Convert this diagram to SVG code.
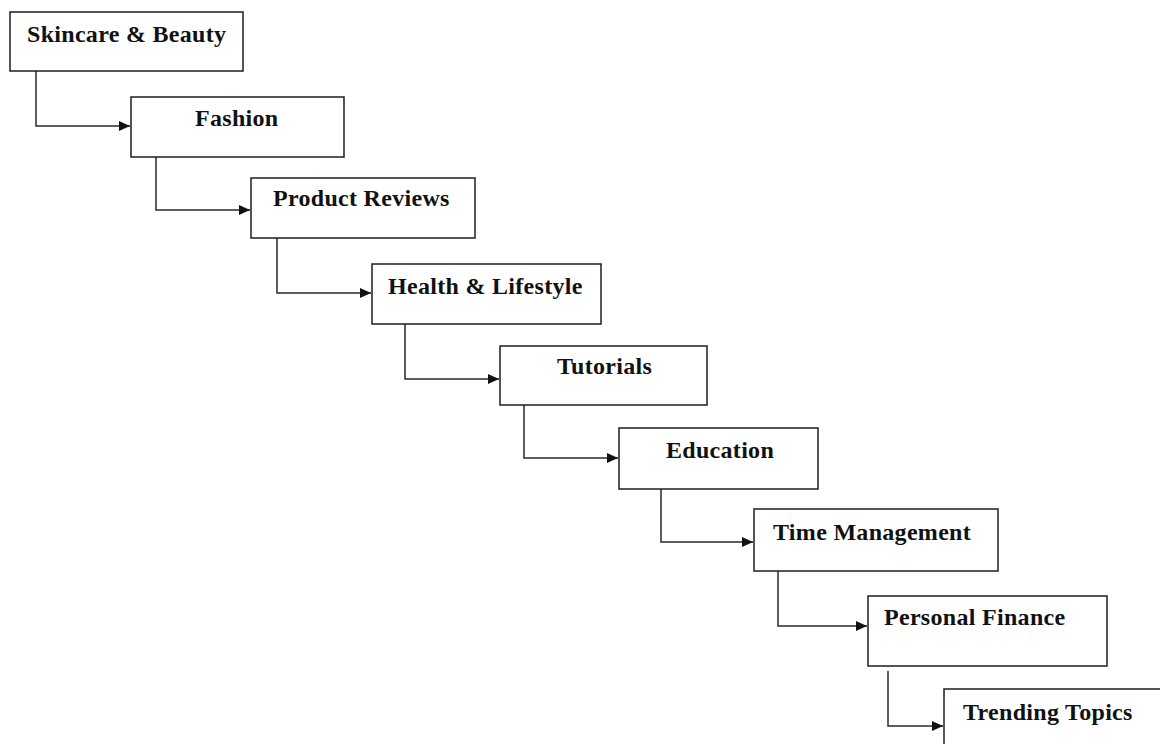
<svg xmlns="http://www.w3.org/2000/svg" width="1160" height="744" viewBox="0 0 1160 744">
  <style>
    .box { fill: #ffffff; stroke: #1e1e1e; stroke-width: 1.5; }
    .lbl { font-family: "Liberation Serif", "Times New Roman", serif; font-weight: bold; font-size: 24px; letter-spacing: 0.3px; fill: #111111; }
    .link { fill: none; stroke: #2a2a2a; stroke-width: 1.5; }
  </style>
  <defs>
    <marker id="arrow" viewBox="0 0 11 10" refX="11" refY="5" markerWidth="11" markerHeight="10" markerUnits="userSpaceOnUse" orient="auto">
      <path d="M0,0 L11,5 L0,10 Z" fill="#111111"/>
    </marker>
  </defs>
  <rect width="1160" height="744" fill="#ffffff"/>

  <g id="connectors">
    <path class="link" d="M36,71 V126 H130" marker-end="url(#arrow)"/>
    <path class="link" d="M156,157 V210 H250" marker-end="url(#arrow)"/>
    <path class="link" d="M277,238 V293 H371" marker-end="url(#arrow)"/>
    <path class="link" d="M405,324 V379 H499" marker-end="url(#arrow)"/>
    <path class="link" d="M524,405 V458 H618" marker-end="url(#arrow)"/>
    <path class="link" d="M661,489 V542 H753" marker-end="url(#arrow)"/>
    <path class="link" d="M778,571 V626 H867" marker-end="url(#arrow)"/>
    <path class="link" d="M888,671 V726 H943" marker-end="url(#arrow)"/>
  </g>

  <g id="skincare-beauty">
    <rect class="box" x="10" y="12" width="233" height="59"/>
    <text class="lbl" x="27" y="42">Skincare &amp; Beauty</text>
  </g>
  <g id="fashion">
    <rect class="box" x="131" y="97" width="213" height="60"/>
    <text class="lbl" x="195" y="126">Fashion</text>
  </g>
  <g id="product-reviews">
    <rect class="box" x="251" y="178" width="224" height="60"/>
    <text class="lbl" x="273" y="206">Product Reviews</text>
  </g>
  <g id="health-lifestyle">
    <rect class="box" x="372" y="264" width="229" height="60"/>
    <text class="lbl" x="388" y="294">Health &amp; Lifestyle</text>
  </g>
  <g id="tutorials">
    <rect class="box" x="500" y="346" width="207" height="59"/>
    <text class="lbl" x="557" y="374">Tutorials</text>
  </g>
  <g id="education">
    <rect class="box" x="619" y="428" width="199" height="61"/>
    <text class="lbl" x="666" y="458">Education</text>
  </g>
  <g id="time-management">
    <rect class="box" x="754" y="509" width="244" height="62"/>
    <text class="lbl" x="773" y="540">Time Management</text>
  </g>
  <g id="personal-finance">
    <rect class="box" x="868" y="596" width="239" height="70"/>
    <text class="lbl" x="884" y="625">Personal Finance</text>
  </g>
  <g id="trending-topics">
    <rect class="box" x="944" y="689" width="240" height="80"/>
    <text class="lbl" x="963" y="720">Trending Topics</text>
  </g>
</svg>
